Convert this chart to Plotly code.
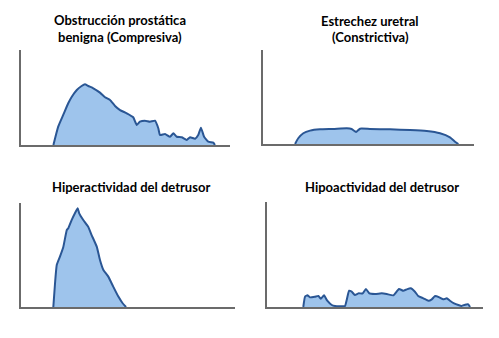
import plotly.graph_objects as go

# Panel 1: Obstrucción prostática benigna (Compresiva)
t1 = [15.5, 17.8, 20.2, 22.6, 24.3, 26.7, 29.0, 30.6, 32.2, 34.6, 37.8, 40.2, 42.6, 45.0, 47.4, 50.6,
      53.7, 55.4, 56.9, 59.3, 61.7, 64.1, 65.7, 66.5, 68.9, 71.3, 72.9, 74.5, 76.9, 79.3, 80.9, 83.3,
      84.8, 86.1, 87.6, 89.6, 92.0, 92.8]
q1 = [0, 19.3, 31.6, 43.9, 50.8, 57.9, 62.1, 63.9, 62.1, 59.7, 55.1, 50.2, 47.4, 41.1, 36.8, 33.4,
      29.2, 21.1, 24.5, 25.6, 24.5, 25.6, 17.6, 10.5, 11.6, 8.7, 12.3, 8.7, 8.1, 5.3, 8.1, 6.6,
      10.5, 18.2, 8.7, 3.5, 2.4, 0]

# Panel 2: Estrechez uretral (Constrictiva)
t2 = [15.2, 16.7, 19.1, 22.3, 27.0, 33.3, 39.7, 42.0, 44.1, 46.0, 50.7, 60.2, 69.7, 77.6, 83.9, 88.6, 91.0, 92.6]
q2 = [0, 6.1, 11.4, 14.2, 15.6, 16.0, 16.7, 16.0, 12.8, 16.3, 16.0, 15.6, 14.9, 13.8, 11.4, 7.1, 2.4, 0]

# Panel 3: Hiperactividad del detrusor
t3 = [15.1, 15.9, 16.7, 18.2, 19.8, 21.4, 22.1, 23.7, 25.2, 26.5, 27.2, 29.1, 31.4, 33.0, 35.4, 36.9,
      38.5, 40.8, 43.1, 45.5, 47.5, 49.1]
q3 = [0, 22.8, 40.4, 48.4, 58.0, 74.0, 75.7, 83.7, 90.1, 94.9, 90.1, 83.7, 77.2, 69.2, 58.0, 45.2,
      35.6, 29.2, 19.6, 10.0, 3.6, 0]

# Panel 4: Hipoactividad del detrusor
t4 = [16.8, 17.6, 18.7, 19.9, 22.2, 23.8, 24.9, 26.4, 27.9, 30.0, 31.5, 36.1, 36.9, 38.0, 39.2, 40.7,
      42.3, 44.3, 45.8, 47.4, 50.0, 53.1, 55.4, 58.5, 61.1, 63.1, 64.7, 66.5, 68.5, 70.0, 72.4, 74.7,
      76.3, 77.8, 79.8, 81.6, 83.2, 84.7, 86.6, 88.6, 90.1, 91.7, 93.2, 94.0]
q4 = [0, 9.8, 11.1, 9.2, 9.8, 10.5, 7.9, 11.1, 6.0, 1.9, 1.0, 1.0, 6.7, 15.5, 14.6, 11.4,
      13.0, 13.0, 17.1, 13.0, 12.4, 13.0, 12.4, 11.1, 17.1, 15.5, 16.8, 17.8, 14.6, 10.5, 8.3, 6.0,
      7.3, 10.5, 9.2, 7.3, 8.3, 6.0, 3.5, 1.9, 1.0, 2.2, 2.5, 0]

titles = [["Obstrucción prostática", "benigna (Compresiva)"],
          ["Estrechez uretral", "(Constrictiva)"],
          ["Hiperactividad del detrusor"],
          ["Hipoactividad del detrusor"]]

W, H = 499, 338
# panel frames in pixels: (x0, x1, ybottom, ytop)
frames = [(21, 230, 145, 50), (263, 474, 144, 50), (21, 235, 307, 203), (267, 483, 307, 202)]
title_pos = [(120, [20, 37]), (370, [21, 37]), (131, [187]), (382, [187])]

FILL = "#9ec4ec"
LINE = "#2a5694"
AXIS = "#6b6b6b"

fig = go.Figure()
series = [(t1, q1), (t2, q2), (t3, q3), (t4, q4)]
layout = dict(width=W, height=H, margin=dict(l=0, r=0, t=0, b=0),
              paper_bgcolor="white", plot_bgcolor="white", showlegend=False)
annotations = []
for i, ((t, q), (x0, x1, yb, yt)) in enumerate(zip(series, frames)):
    n = "" if i == 0 else str(i + 1)
    fig.add_trace(go.Scatter(x=t, y=q, mode="lines", fill="tozeroy", fillcolor=FILL,
                             line=dict(color=LINE, width=2, shape="spline", smoothing=0.4),
                             xaxis="x" + n, yaxis="y" + n, hoverinfo="skip"))
    layout["xaxis" + n] = dict(domain=[x0 / W, x1 / W], range=[0, 100], showgrid=False,
                               zeroline=False, showticklabels=False, ticks="",
                               showline=True, linecolor=AXIS, linewidth=2,
                               anchor="y" + n, fixedrange=True)
    layout["yaxis" + n] = dict(domain=[1 - yb / H, 1 - yt / H], range=[0, 100], showgrid=False,
                               zeroline=False, showticklabels=False, ticks="",
                               showline=True, linecolor=AXIS, linewidth=2,
                               anchor="x" + n, fixedrange=True)
    cx, ys = title_pos[i]
    for line_text, yy in zip(titles[i], ys):
        annotations.append(dict(text="<b>" + line_text + "</b>", x=cx / W, y=1 - yy / H,
                                xref="paper", yref="paper", xanchor="center", yanchor="middle",
                                showarrow=False,
                                font=dict(family="Lato", size=13, color="#000000")))
layout["annotations"] = annotations
fig.update_layout(**layout)
fig.write_html("out.html")
